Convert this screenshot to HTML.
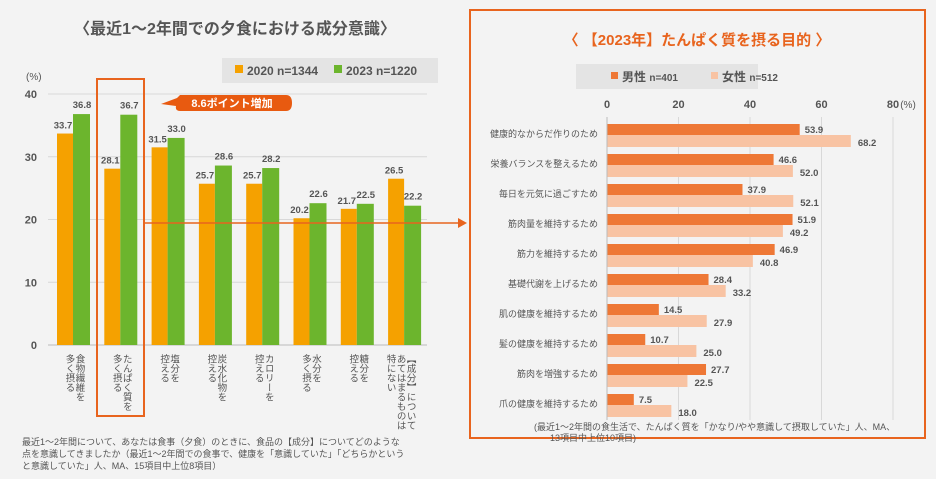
<!DOCTYPE html>
<html><head><meta charset="utf-8">
<style>
body{margin:0;width:936px;height:479px;background:#f3f3f3;overflow:hidden;font-family:"Liberation Sans","Noto Sans CJK JP",sans-serif;color:#444}
svg{position:absolute;left:0;top:0}
text{font-family:"Liberation Sans","Noto Sans CJK JP",sans-serif}
</style></head><body>
<svg id="c" width="936" height="479">
<text x="235" y="34" font-size="16" font-weight="bold" fill="#555" text-anchor="middle">〈最近1〜2年間での夕食における成分意識〉</text>
<rect x="222" y="58" width="216" height="25" fill="#e4e4e4"/>
<rect x="235" y="65" width="8" height="8" fill="#f5a100"/>
<text x="247" y="75" font-size="12" font-weight="bold" fill="#555">2020 n=1344</text>
<rect x="334" y="65" width="8" height="8" fill="#6cb52d"/>
<text x="346" y="75" font-size="12" font-weight="bold" fill="#555">2023  n=1220</text>
<text x="26" y="80" font-size="10" fill="#555">(%)</text>
<rect x="470" y="10" width="455" height="428" fill="none" stroke="#e8641e" stroke-width="2"/>
<text x="697" y="45" font-size="15" font-weight="bold" fill="#e8641e" text-anchor="middle">〈 【2023年】たんぱく質を摂る目的 〉</text>
<rect x="576" y="64" width="182" height="25" fill="#e4e4e4"/>
<rect x="611" y="72" width="7" height="7" fill="#ee7836"/>
<text x="622" y="81" font-size="12" font-weight="bold" fill="#555">男性 <tspan font-size="10">n=401</tspan></text>
<rect x="711" y="72" width="7" height="7" fill="#f8c3a3"/>
<text x="722" y="81" font-size="12" font-weight="bold" fill="#555">女性 <tspan font-size="10">n=512</tspan></text>
<g id="L"></g><g id="R"></g>
<rect x="97" y="79" width="47" height="337" fill="none" stroke="#e8641e" stroke-width="2"/>
<path d="M161 104 L177 98 L180 95 L286 95 Q292 95 292 103 Q292 111 286 111 L180 111 Q175 111 176 106 Z" fill="#e85a10"/>
<text x="232" y="107" font-size="11" font-weight="bold" fill="#fff" text-anchor="middle">8.6ポイント増加</text>
<line x1="145" y1="223" x2="460" y2="223" stroke="#e8641e" stroke-width="1.5"/>
<path d="M458 218 L467 223 L458 228 Z" fill="#e8641e"/>
<text x="22" y="445" font-size="9" fill="#555"><tspan x="22">最近1〜2年間について、あなたは食事（夕食）のときに、食品の【成分】についてどのような</tspan><tspan x="22" dy="12">点を意識してきましたか（最近1〜2年間での食事で、健康を「意識していた」「どちらかという</tspan><tspan x="22" dy="12">と意識していた」人、MA、15項目中上位8項目）</tspan></text>
<text x="540" y="430" font-size="9" fill="#555"><tspan x="534">(最近1〜2年間の食生活で、たんぱく質を「かなり/やや意識して摂取していた」人、MA、</tspan><tspan x="550" dy="11">13項目中上位10項目)</tspan></text>
</svg>
<script>
const leftCats=["食物繊維を多く摂る","たんぱく質を多く摂る","塩分を控える","炭水化物を控える","カロリーを控える","水分を多く摂る","糖分を控える","【成分】についてあてはまるものは特にない"];
const v2020=[33.7,28.1,31.5,25.7,25.7,20.2,21.7,26.5];
const v2023=[36.8,36.7,33.0,28.6,28.2,22.6,22.5,22.2];
const leftTicks=[0,10,20,30,40];
const rightCats=["健康的なからだ作りのため","栄養バランスを整えるため","毎日を元気に過ごすため","筋肉量を維持するため","筋力を維持するため","基礎代謝を上げるため","肌の健康を維持するため","髪の健康を維持するため","筋肉を増強するため","爪の健康を維持するため"];
const male=[53.9,46.6,37.9,51.9,46.9,28.4,14.5,10.7,27.7,7.5];
const female=[68.2,52.0,52.1,49.2,40.8,33.2,27.9,25.0,22.5,18.0];
const rightTicks=[0,20,40,60,80];
const NS="http://www.w3.org/2000/svg";
function mk(p,t,a,txt){const e=document.createElementNS(NS,t);for(const k in a)e.setAttribute(k,a[k]);if(txt!=null)e.textContent=txt;p.appendChild(e);return e;}
const L=document.getElementById('L'),R=document.getElementById('R');
const ly=v=>345-v*6.275, lx=i=>73+i*47.3;
leftTicks.forEach(t=>{
 const g=mk(L,'line',{x1:48,x2:427,y1:ly(t),y2:ly(t),stroke:t?'#d8d8d8':'#bbb'});
 
 
 const tx=mk(L,'text',{x:37,y:ly(t)+4,'font-size':11,'font-weight':'bold',fill:'#555','text-anchor':'end'},t);
 
 
});
leftCats.forEach((c,i)=>{
 const x=lx(i);
 const b1=mk(L,'rect',{x:x-16,y:ly(v2020[i]),width:16,height:ly(0)-ly(v2020[i]),fill:'#f5a100'});
 
 
 const b2=mk(L,'rect',{x:x,y:ly(v2023[i]),width:17,height:ly(0)-ly(v2023[i]),fill:'#6cb52d'});
 
 
 const t1=mk(L,'text',{x:x-10,y:ly(v2020[i])-5,'font-size':9.5,'font-weight':'bold',fill:'#555','text-anchor':'middle'},v2020[i].toFixed(1));
 
 
 const t2=mk(L,'text',{x:x+9,y:ly(v2023[i])-6,'font-size':9.5,'font-weight':'bold',fill:'#555','text-anchor':'middle'},v2023[i].toFixed(1));
 
 
 const cols=c==="【成分】についてあてはまるものは特にない"?["【成分】について","あてはまるものは","特にない"]:(c.length>5?[c.slice(0,c.length-(c.endsWith("摂る")?4:3)),c.slice(c.length-(c.endsWith("摂る")?4:3))]:[c.slice(0,2),c.slice(2)]);
 cols.forEach((col,k)=>{
  const cx=x+6-k*10;
  const tx=mk(L,'text',{x:cx,y:354,'font-size':9.5,fill:'#555','writing-mode':'tb','glyph-orientation-vertical':0},col);
  
  
 });
});
const rx=v=>607+v*3.575, ry=i=>124+i*30;
rightTicks.forEach(t=>{
 const g=mk(R,'line',{x1:rx(t),x2:rx(t),y1:117,y2:420,stroke:'#d8d8d8'});
 
 
 const tx=mk(R,'text',{x:rx(t),y:108,'font-size':11,'font-weight':'bold',fill:'#555','text-anchor':'middle'},t);
 
 
});
const pu=mk(R,'text',{x:908,y:108,'font-size':10,fill:'#555','text-anchor':'middle'},'(%)');


rightCats.forEach((c,i)=>{
 const y=ry(i);
 const b1=mk(R,'rect',{x:rx(0),y:y,width:rx(male[i])-rx(0),height:11,fill:'#ee7836'});
 
 
 const b2=mk(R,'rect',{x:rx(0),y:y+11,width:rx(female[i])-rx(0),height:12,fill:'#f8c3a3'});
 
 
 const t1=mk(R,'text',{x:rx(male[i])+5,y:y+9,'font-size':9.5,'font-weight':'bold',fill:'#555'},male[i].toFixed(1));
 
 
 const t2=mk(R,'text',{x:rx(female[i])+7,y:y+22,'font-size':9.5,'font-weight':'bold',fill:'#555'},female[i].toFixed(1));
 
 
 const tl=mk(R,'text',{x:598,y:y+13,'font-size':9,fill:'#555','text-anchor':'end'},c);
 
 
});
const ax=mk(R,'line',{x1:607,x2:607,y1:117,y2:420,stroke:'#bbb'});


</script>
</body></html>
